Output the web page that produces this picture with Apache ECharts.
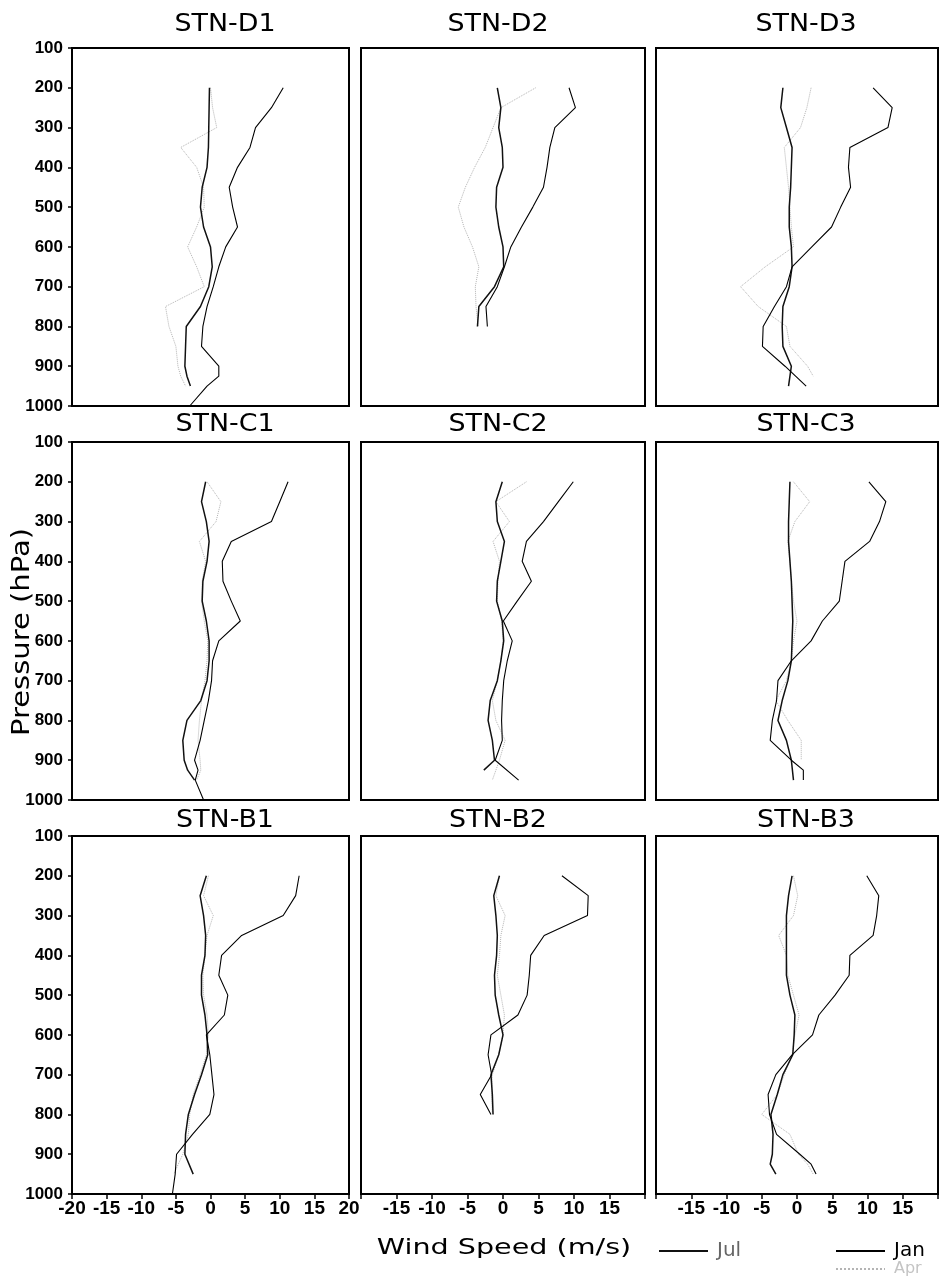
<!DOCTYPE html>
<html><head><meta charset="utf-8">
<script src="https://cdn.jsdelivr.net/npm/echarts@6/dist/echarts.min.js"></script>
<style>html,body{margin:0;padding:0;background:#fff}#c{width:945px;height:1283px}</style>
</head><body><div id="c"></div>
<script>
// Pressure levels (hPa), shared by all profiles; null = no value at that level
const levels = [200,250,300,350,400,450,500,550,600,650,700,750,800,850,900,925,950,1000];

const stations = ['STN-D1','STN-D2','STN-D3','STN-C1','STN-C2','STN-C3','STN-B1','STN-B2','STN-B3'];
const months = ['Apr','Jul','Jan'];

// Wind speed (m/s) per level
const D1_jan = [10.5,8.8,6.5,5.7,3.9,2.7,3.2,3.9,2.2,1.2,0.4,-0.5,-1.1,-1.3,1.2,1.2,-0.5,-3.0];
const D1_jul = [-0.15,-0.2,-0.25,-0.3,-0.5,-1.2,-1.45,-1.0,0.0,0.25,-0.25,-1.45,-3.5,-3.6,-3.7,-3.4,-2.9,null];
const D1_apr = [0.0,0.3,0.9,-4.3,-2.0,-1.0,-0.9,-2.0,-3.3,-2.0,-0.9,-6.5,-6.0,-5.0,-4.7,-4.3,-3.6,null];

const D2_jan = [9.3,10.2,7.3,6.6,6.2,5.7,4.2,2.6,1.1,0.2,-0.8,-2.4,-2.2,null,null,null,null,null];
const D2_jul = [-0.8,-0.3,-0.6,-0.1,0.0,-0.9,-1.0,-0.6,0.0,0.1,-1.2,-3.4,-3.6,null,null,null,null,null];
const D2_apr = [4.6,-0.3,-1.4,-2.5,-4.0,-5.3,-6.3,-5.5,-4.3,-3.4,-3.9,-3.8,-3.5,null,null,null,null,null];

const D3_jan = [10.8,13.5,12.9,7.5,7.3,7.6,6.2,4.9,2.1,-0.7,-1.5,-3.2,-4.8,-4.9,-1.7,-0.2,1.3,null];
const D3_jul = [-2.0,-2.3,-1.5,-0.7,-0.8,-0.9,-1.1,-1.1,-0.8,-0.7,-1.1,-2.0,-2.1,-2.0,-0.8,null,-1.2,null];
const D3_apr = [2.0,1.4,0.5,-1.8,-1.5,-1.2,-1.0,-0.8,-0.5,-4.5,-8.0,-5.5,-1.5,-1.0,1.5,2.3,null,null];

const C1_jan = [11.2,10.0,8.8,3.0,1.7,1.8,3.0,4.3,1.2,0.3,0.15,-0.3,-0.9,-1.5,-2.3,-1.8,-2.2,-1.0];
const C1_jul = [-0.7,-1.3,-0.6,-0.2,-0.5,-1.1,-1.2,-0.6,-0.2,-0.2,-0.5,-1.4,-3.4,-4.0,-3.8,-3.3,-2.3,null];
const C1_apr = [-0.5,1.5,0.8,-1.6,-0.7,-1.2,-1.3,-0.9,-0.4,-0.5,-0.8,-1.3,-1.6,-1.8,-1.5,-1.4,-2.0,null];

const C2_jan = [9.9,7.8,5.7,3.3,2.7,4.0,2.0,0.05,1.3,0.6,0.1,-0.1,-0.2,-0.1,-1.1,null,2.2,null];
const C2_jul = [-0.1,-1.0,-0.8,0.2,-0.3,-0.8,-0.9,-0.1,0.1,-0.3,-0.8,-1.8,-2.1,-1.5,-1.2,-2.7,null,null];
const C2_apr = [3.3,-1.0,0.9,-1.4,-0.5,-0.7,-0.8,-0.2,0.0,-0.3,-0.8,-1.5,-1.0,0.3,-0.5,null,-1.5,null];

const C3_jan = [10.2,12.6,11.7,10.3,6.8,6.4,6.0,3.6,2.0,-0.8,-2.7,-2.9,-3.5,-3.8,-0.8,0.9,0.9,null];
const C3_jul = [-1.0,-1.1,-1.2,-1.2,-1.0,-0.8,-0.7,-0.6,-0.7,-0.8,-1.3,-2.1,-2.7,-1.5,-0.8,null,-0.5,null];
const C3_apr = [-0.5,1.8,-0.3,-1.3,-1.0,-0.8,-0.5,0.0,-0.5,-0.8,-1.5,-3.0,-1.3,0.6,0.6,null,null,null];

const B1_jan = [12.8,12.3,10.5,4.5,1.6,1.2,2.5,2.0,-0.6,-0.1,0.2,0.5,-0.1,-2.6,-4.9,null,-5.1,-5.5];
const B1_jul = [-0.6,-1.5,-1.0,-0.7,-0.8,-1.3,-1.3,-0.8,-0.5,-0.4,-1.3,-2.3,-3.2,-3.6,-3.7,null,-2.5,null];
const B1_apr = [-0.3,-1.0,0.4,-0.5,-0.8,-1.1,-1.0,-0.5,-0.3,-0.6,-1.5,-2.5,-3.0,-3.2,-4.0,null,-5.3,null];

const B2_jan = [8.3,12.0,11.9,5.8,3.9,3.7,3.4,2.1,-1.7,-2.1,-1.6,-3.2,-1.7,null,null,null,null,null];
const B2_jul = [-0.5,-1.3,-1.0,-0.8,-0.9,-1.2,-1.1,-0.6,0.0,-0.6,-1.7,-1.5,-1.4,null,null,null,null,null];
const B2_apr = [-0.5,-1.0,0.3,-0.3,-0.5,-0.8,-0.3,0.2,0.0,-0.6,-1.5,-1.6,-1.5,null,null,null,null,null];

const B3_jan = [9.9,11.6,11.3,10.8,7.5,7.4,5.4,3.1,2.2,-0.7,-3.0,-4.1,-3.9,-2.9,0.4,2.0,2.7,null];
const B3_jul = [-0.7,-1.2,-1.5,-1.5,-1.5,-1.5,-1.0,-0.3,-0.4,-0.6,-2.0,-2.8,-3.7,-3.4,-3.5,-3.8,-3.0,null];
const B3_apr = [-0.5,0.1,-0.5,-2.6,-1.5,-1.3,-0.5,0.3,-0.3,-0.7,-1.8,-2.8,-5.0,-1.0,0.2,1.5,2.3,null];

const xTicks = [-20,-15,-10,-5,0,5,10,15,20];
const yTicks = [100,200,300,400,500,600,700,800,900,1000];

// ---- build ----
const stationSeries = [
  [D1_apr, D1_jul, D1_jan], [D2_apr, D2_jul, D2_jan], [D3_apr, D3_jul, D3_jan],
  [C1_apr, C1_jul, C1_jan], [C2_apr, C2_jul, C2_jan], [C3_apr, C3_jul, C3_jan],
  [B1_apr, B1_jul, B1_jan], [B2_apr, B2_jul, B2_jan], [B3_apr, B3_jul, B3_jan]
];
const styles = {
  Jan: {color:'#000', width:1.1, type:'solid'},
  Jul: {color:'#111', width:1.5, type:'solid'},
  Apr: {color:'#b4b4b4', width:1, type:'dotted'}
};

const colLeft = [72, 361, 656], colW = [277, 284, 282];
const rowTop = [48, 442, 836], rowH = 358;
const titleX = [225, 498, 806], titleY = [25, 425, 821];
const tickFam = '"Liberation Sans Narrow", "Arial Narrow", "Liberation Sans", Arial, sans-serif';

const grid = [], xAxis = [], yAxis = [], series = [], graphic = [];
for (let i = 0; i < 9; i++) {
  const r = Math.floor(i / 3), c = i % 3;
  grid.push({left: colLeft[c], top: rowTop[r], width: colW[c], height: rowH,
    show: true, borderColor: '#000', borderWidth: 2, backgroundColor: '#fff',
    containLabel: false, outerBoundsMode: 'none'});
  const bottomRow = r === 2, leftCol = c === 0;
  xAxis.push({type: 'value', gridIndex: i, min: xTicks[0], max: xTicks[xTicks.length-1], interval: 5,
    splitLine: {show: false},
    axisLine: {show: true, onZero: false, lineStyle: {color: '#000', width: 2}},
    axisTick: {show: bottomRow, inside: false, length: 5, lineStyle: {color: '#000', width: 1.5}},
    axisLabel: {show: bottomRow, margin: 5, showMinLabel: true, showMaxLabel: true, hideOverlap: false,
      fontFamily: tickFam, fontWeight: 'bold', fontSize: 19, color: '#000',
      formatter: v => (c !== 0 && Math.abs(v) === 20) ? '' : String(v)}
  });
  yAxis.push({type: 'value', gridIndex: i, inverse: true, min: yTicks[0], max: yTicks[yTicks.length-1], interval: 100,
    splitLine: {show: false},
    axisLine: {show: true, onZero: false, lineStyle: {color: '#000', width: 2}},
    axisTick: {show: leftCol, inside: false, length: 4, lineStyle: {color: '#000', width: 1.5}},
    axisLabel: {show: leftCol, margin: 9, showMinLabel: true, showMaxLabel: true, hideOverlap: false,
      fontFamily: tickFam, fontWeight: 'bold', fontSize: 17, color: '#000',
      formatter: v => String(v)}
  });
  stationSeries[i].forEach((arr, k) => {
    const m = months[k];
    const data = [];
    levels.forEach((p, j) => { if (arr[j] !== null) data.push([arr[j], p]); });
    series.push({type: 'line', name: m, xAxisIndex: i, yAxisIndex: i, data: data,
      symbol: 'none', showSymbol: false, silent: true, clip: true, z: 2 + k,
      lineStyle: Object.assign({}, styles[m]), itemStyle: {color: styles[m].color}});
  });
  graphic.push({type: 'text', x: titleX[c], y: titleY[r], scaleX: 1.12, silent: true,
    style: {text: stations[i], fill: '#000', font: '24px "DejaVu Sans", sans-serif',
      align: 'center', verticalAlign: 'middle', textAlign: 'center', textVerticalAlign: 'middle'}});
}
graphic.push({type: 'text', x: 22, y: 632, rotation: Math.PI / 2, scaleX: 1.16, silent: true,
  style: {text: 'Pressure (hPa)', fill: '#000', font: '25px "DejaVu Sans", sans-serif',
    align: 'center', verticalAlign: 'middle', textAlign: 'center', textVerticalAlign: 'middle'}});
graphic.push({type: 'text', x: 504, y: 1248, scaleX: 1.3, silent: true,
  style: {text: 'Wind Speed (m/s)', fill: '#000', font: '22px "DejaVu Sans", sans-serif',
    align: 'center', verticalAlign: 'middle', textAlign: 'center', textVerticalAlign: 'middle'}});

const legTxt = {fontFamily: '"DejaVu Sans", sans-serif', fontSize: 20, padding: [0, 0, 0, 4]};
const legCommon = {padding: 0, itemWidth: 49, itemHeight: 16, selectedMode: false,
  itemStyle: {opacity: 0, borderWidth: 0}};
const legend = [
  Object.assign({data: ['Jul'], left: 658, top: 1241, textStyle: Object.assign({color: '#666'}, legTxt)}, legCommon),
  Object.assign({data: ['Jan'], left: 835, top: 1241, textStyle: Object.assign({color: '#000'}, legTxt)}, legCommon),
  Object.assign({data: ['Apr'], left: 835, top: 1261, textStyle: Object.assign({color: '#c4c4c4'}, legTxt, {fontSize: 16})}, legCommon)
];

const chart = echarts.init(document.getElementById('c'), null, {renderer: 'canvas', width: 945, height: 1283});
chart.setOption({
  animation: false,
  backgroundColor: '#fff',
  tooltip: {show: false},
  grid, xAxis, yAxis, series, legend, graphic
});
</script></body></html>
